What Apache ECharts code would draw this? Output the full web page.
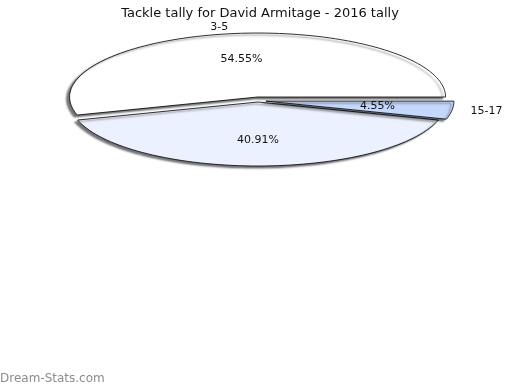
<!DOCTYPE html>
<html><head><meta charset="utf-8">
<script src="https://cdn.jsdelivr.net/npm/echarts@6/dist/echarts.min.js"></script>
<style>html,body{margin:0;padding:0;background:#fff}#c{width:520px;height:390px}</style>
</head><body><div id="c"></div>
<script>
var categories = ['3-5', '', '15-17'];
var values = [12, 9, 1];
var colors = ['#ffffff', '#ebf1fe', '#c4d7fd'];
var explode = [3, 2, 8];

var total = values.reduce(function(a,b){return a+b;},0);
var starts = [];
var acc = 0;
for (var i=0;i<values.length;i++){ starts.push(acc/total*360); acc += values[i]; }

var CX = 258, CY = 100, RX = 188, RY = 64;
var font = 'DejaVu Sans, sans-serif';

function renderItem(params, api){
  var i = params.dataIndex;
  var v = api.value(0);
  var a0 = starts[i], a1 = a0 + v/total*360;
  var mid = (a0+a1)/2*Math.PI/180;
  var d = explode[i];
  var cx = CX + d*Math.cos(mid), cy = CY - d*Math.sin(mid);
  var pts = [[cx,cy]];
  var n = Math.max(8, Math.ceil((a1-a0)/2));
  for (var k=0;k<=n;k++){
    var t = (a0 + (a1-a0)*k/n)*Math.PI/180;
    pts.push([cx + RX*Math.cos(t), cy - RY*Math.sin(t)]);
  }
  var pct = (v/total*100).toFixed(2) + '%';
  var lx = cx + 0.6*RX*Math.cos(mid), ly = cy - 0.6*RY*Math.sin(mid);
  var ox = cx + 1.1*RX*Math.cos(mid), oy = cy - 1.1*RY*Math.sin(mid);
  var children = [{
    type:'polygon', shape:{points:pts},
    style:{fill:colors[i], stroke:'#000', lineWidth:0.8,
      shadowColor:'rgba(0,0,0,0.55)', shadowOffsetX:-3, shadowOffsetY:2, shadowBlur:2}
  },{
    type:'text', z2:10, style:{text:pct, x:lx, y:ly, textAlign:'center', textVerticalAlign:'middle',
      fill:'#111', font:'11px '+font}
  }];
  if (categories[i]) {
    children.push({type:'text', z2:10, style:{text:categories[i], x:ox, y:oy,
      textAlign: Math.cos(mid) < 0 ? 'right' : 'left', textVerticalAlign:'middle',
      fill:'#111', font:'11px '+font}});
  }
  return {type:'group', children:children};
}

var chart = echarts.init(document.getElementById('c'), null, {renderer:'canvas'});
chart.setOption({
  animation:false,
  title:{text:'Tackle tally for David Armitage - 2016 tally', left:'center', top:2,
    textStyle:{fontSize:13, fontWeight:'normal', color:'#111', fontFamily:font}},
  graphic:[{type:'text', left:0, top:373, style:{text:'Dream-Stats.com', fill:'#8c8c8c',
    font:'12px '+font}}],
  series:[{type:'custom', coordinateSystem:'none', renderItem:renderItem,
    data: values.map(function(v,i){return {name:categories[i], value:[v]};})}]
});
</script></body></html>
